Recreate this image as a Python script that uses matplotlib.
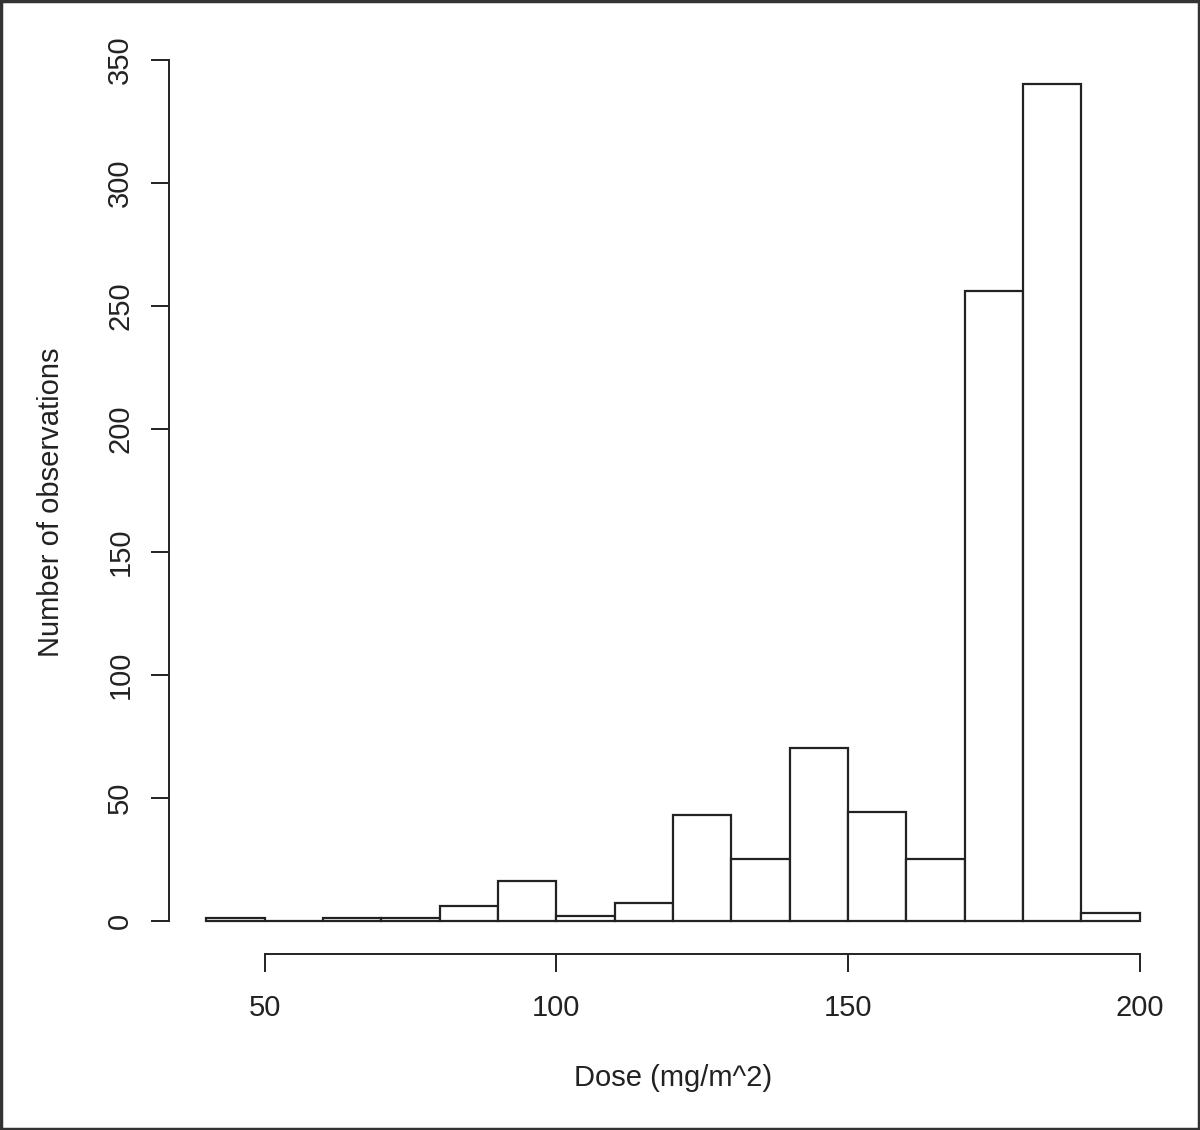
import matplotlib
matplotlib.use('Agg')
import matplotlib.pyplot as plt
from matplotlib.patches import Rectangle

plt.rcParams['font.family'] = ['Liberation Sans', 'DejaVu Sans']

# histogram of dose, bins of width 10
bin_edges = [40, 50, 60, 70, 80, 90, 100, 110, 120, 130, 140, 150, 160, 170, 180, 190, 200]
counts = [1, 0, 1, 1, 6, 16, 2, 7, 43, 25, 70, 44, 25, 256, 340, 3]
x_ticks = [50, 100, 150, 200]
y_ticks = [0, 50, 100, 150, 200, 250, 300, 350]


def main():
	fig = plt.figure(figsize=(12, 11.3), dpi=100)
	ax = fig.add_axes([169/1200, 1 - 954/1130, (1177-169)/1200, (954-51)/1130])

	lefts = bin_edges[:-1]
	widths = [b - a for a, b in zip(bin_edges[:-1], bin_edges[1:])]
	ax.bar(lefts, counts, width=widths, align='edge', color='white',
		edgecolor='#222222', linewidth=1.6)

	ax.set_xlim(33.6, 206.4)
	ax.set_ylim(-13.6, 353.6)

	for s in ['top', 'right']:
		ax.spines[s].set_visible(False)
	ax.spines['left'].set_bounds(0, 350)
	ax.spines['bottom'].set_bounds(50, 200)
	for s in ['left', 'bottom']:
		ax.spines[s].set_linewidth(1.4)
		ax.spines[s].set_color('#222222')

	ax.set_xticks(x_ticks)
	ax.set_yticks(y_ticks)
	ax.tick_params(axis='both', direction='out', length=13, width=1.4,
		color='#222222', labelsize=21, labelcolor='#222222')
	ax.tick_params(axis='x', pad=16)
	ax.tick_params(axis='y', pad=12)
	for lab in ax.get_yticklabels():
		lab.set_rotation(90)
		lab.set_va('center')

	ax.set_xlabel('Dose (mg/m^2)', fontsize=21, color='#222222', labelpad=30)
	ax.set_ylabel('Number of observations', fontsize=21, color='#222222', labelpad=30)

	# grey frame round the whole picture
	fig.patches.append(Rectangle((0.001, 0.001), 0.998, 0.998, transform=fig.transFigure,
		fill=False, edgecolor='#333333', linewidth=2.5))

	fig.savefig('out.png', dpi=100)

main()
